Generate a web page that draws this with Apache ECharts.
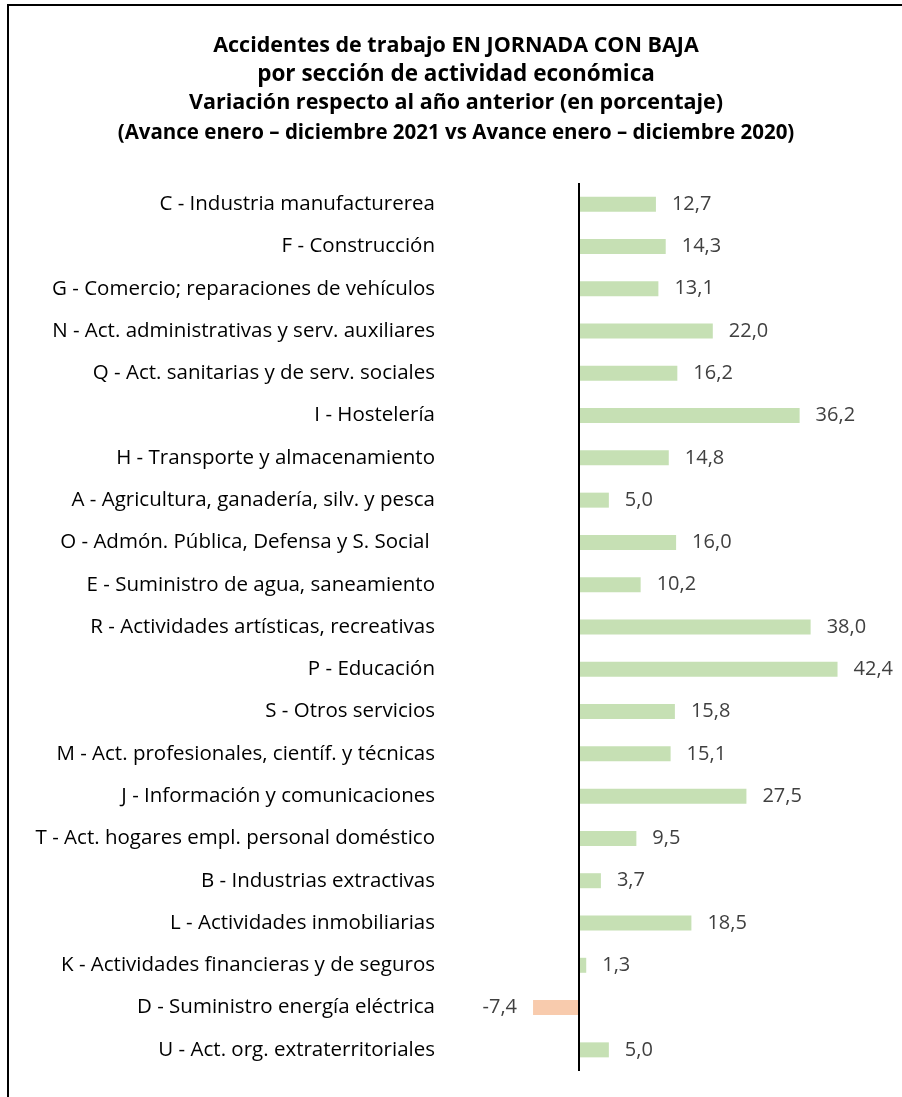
<!DOCTYPE html>
<html>
<head>
<meta charset="utf-8">
<script src="https://cdn.jsdelivr.net/npm/echarts@6/dist/echarts.min.js"></script>
<style>
  html, body { margin: 0; padding: 0; background: #fff; }
  #chart { width: 902px; height: 1097px; }
</style>
</head>
<body>
<div id="chart"></div>
<script>
const categories = [
  'C - Industria manufacturerea',
  'F - Construcción',
  'G - Comercio; reparaciones de vehículos',
  'N - Act. administrativas y serv. auxiliares',
  'Q - Act. sanitarias y de serv. sociales',
  'I - Hostelería',
  'H - Transporte y almacenamiento',
  'A - Agricultura, ganadería, silv. y pesca',
  'O - Admón. Pública, Defensa y S. Social ',
  'E - Suministro de agua, saneamiento',
  'R - Actividades artísticas, recreativas',
  'P - Educación',
  'S - Otros servicios',
  'M - Act. profesionales, científ. y técnicas',
  'J - Información y comunicaciones',
  'T - Act. hogares empl. personal doméstico',
  'B - Industrias extractivas',
  'L - Actividades inmobiliarias',
  'K - Actividades financieras y de seguros',
  'D - Suministro energía eléctrica',
  'U - Act. org. extraterritoriales'
]
const values = [12.7, 14.3, 13.1, 22.0, 16.2, 36.2, 14.8, 5.0, 16.0, 10.2, 38.0, 42.4, 15.8, 15.1, 27.5, 9.5, 3.7, 18.5, 1.3, -7.4, 5.0]

const titleLines = [
  'Accidentes de trabajo EN JORNADA CON BAJA',
  'por sección de actividad económica',
  'Variación respecto al año anterior (en porcentaje)',
  '(Avance enero – diciembre 2021 vs Avance enero – diciembre 2020)'
]

const fontFamily = 'Open Sans'
const green = '#C6E0B4'
const orange = '#F8CBAD'

// title lines: top offset and font size
const titleTops = [30, 58, 87, 118]
const titleSizes = [21.5, 22.5, 21.5, 20.5]

const option = {
  animation: false,
  backgroundColor: '#fff',
  title: titleLines.map((t, i) => ({
    text: t,
    left: 451,
    top: titleTops[i],
    textAlign: 'center',
    textStyle: { fontFamily, fontWeight: 'bold', fontSize: titleSizes[i], color: '#000' }
  })),
  graphic: [{
    type: 'rect',
    shape: { x: 8, y: 5, width: 910, height: 1110 },
    style: { fill: 'none', stroke: '#000', lineWidth: 2 },
    silent: true
  }],
  grid: { left: 456, right: 18, top: 183, bottom: 26, containLabel: false },
  xAxis: {
    type: 'value',
    min: -20,
    max: 50,
    show: false
  },
  yAxis: {
    type: 'category',
    data: categories,
    inverse: true,
    axisLine: { show: false, onZero: false },
    axisTick: { show: false },
    axisLabel: { margin: 21, color: '#000', fontFamily, fontSize: 20.5 }
  },
  series: [{
    type: 'bar',
    barWidth: 15,
    data: values.map(v => ({
      value: v,
      itemStyle: { color: v < 0 ? orange : green },
      label: { position: v < 0 ? 'left' : 'right' }
    })),
    label: {
      show: true,
      distance: 16,
      color: '#404040',
      fontFamily,
      fontSize: 20,
      formatter: p => p.value.toFixed(1).replace('.', ',')
    },
    markLine: {
      silent: true,
      symbol: 'none',
      label: { show: false },
      lineStyle: { color: '#000', width: 2, type: 'solid' },
      data: [{ xAxis: 0 }]
    }
  }]
}

const chart = echarts.init(document.getElementById('chart'), null, { renderer: 'canvas' })
chart.setOption(option)
</script>
</body>
</html>
